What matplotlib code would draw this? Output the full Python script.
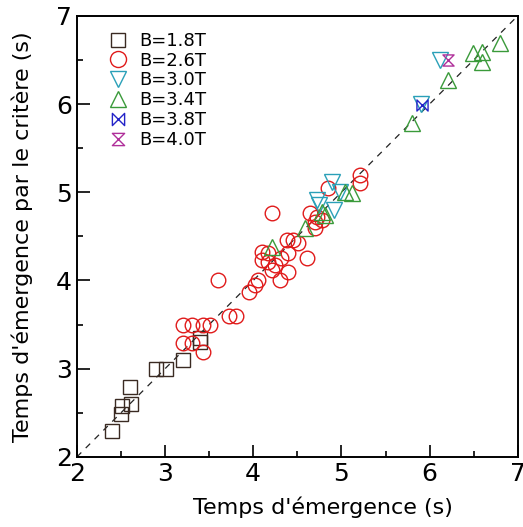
import matplotlib
matplotlib.use("Agg")
import matplotlib.pyplot as plt
import numpy as np
from matplotlib.path import Path
from matplotlib.ticker import MultipleLocator

# B = 1.8 T
x18 = [2.40, 2.50, 2.51, 2.61, 2.60, 2.90, 3.01, 3.20, 3.40, 3.40]
y18 = [2.29, 2.49, 2.58, 2.60, 2.79, 3.00, 3.00, 3.10, 3.30, 3.35]
# B = 2.6 T
x26 = [3.20, 3.30, 3.51, 3.20, 3.30, 3.43, 3.43, 3.72, 3.80, 3.60, 3.95, 4.02,
       4.05, 4.10, 4.10, 4.17, 4.17, 4.21, 4.30, 4.39, 4.32, 4.39, 4.38, 4.45,
       4.51, 4.61, 4.21, 4.64, 4.72, 4.70, 4.78, 4.70, 4.85, 5.21, 5.21, 4.25]
y26 = [3.50, 3.50, 3.50, 3.29, 3.29, 3.50, 3.19, 3.60, 3.60, 4.00, 3.87, 3.95,
       4.00, 4.23, 4.32, 4.21, 4.31, 4.12, 4.00, 4.10, 4.26, 4.31, 4.46, 4.46,
       4.43, 4.26, 4.76, 4.77, 4.72, 4.66, 4.69, 4.60, 5.05, 5.20, 5.11, 4.18]
# B = 3.0 T
x30 = [4.72, 4.75, 4.89, 4.98, 4.92, 5.90, 6.12]
y30 = [4.91, 4.86, 5.12, 5.00, 4.80, 6.00, 6.50]
# B = 3.4 T
x34 = [4.21, 4.59, 4.78, 4.81, 5.04, 5.12, 5.80, 6.21, 6.49, 6.60, 6.60, 6.80]
y34 = [4.38, 4.60, 4.78, 4.74, 5.00, 4.99, 5.79, 6.27, 6.58, 6.59, 6.48, 6.69]
# B = 3.8 T
x38 = [5.91]
y38 = [5.99]
# B = 4.0 T
x40 = [6.21]
y40 = [6.50]

labels = ["B=1.8T", "B=2.6T", "B=3.0T", "B=3.4T", "B=3.8T", "B=4.0T"]

bowtie = Path([(-1, -1), (-1, 1), (1, -1), (1, 1), (-1, -1)],
              [Path.MOVETO, Path.LINETO, Path.LINETO, Path.LINETO, Path.CLOSEPOLY])
hourglass = Path([(-1, 1), (1, 1), (-1, -1), (1, -1), (-1, 1)],
                 [Path.MOVETO, Path.LINETO, Path.LINETO, Path.LINETO, Path.CLOSEPOLY])

fig = plt.figure(figsize=(5.23, 5.27), dpi=100)
ax = fig.add_axes([0.147, 0.133, 0.843, 0.837])

ax.plot([2, 7], [2, 7], ls=(0, (5, 5)), color="#222222", lw=0.9, zorder=1)

series = [
    (x18, y18, "s", "#3a2a22", 9.5),
    (x26, y26, "o", "#e01a1a", 10.5),
    (x30, y30, "v", "#2aa0b8", 11),
    (x34, y34, "^", "#3a9a3a", 11),
    (x38, y38, bowtie, "#2323c8", 8),
    (x40, y40, hourglass, "#b0309a", 8),
]
for (xs, ys, m, c, ms), lab in zip(series, labels):
    ax.plot(xs, ys, ls="none", marker=m, markersize=ms, markerfacecolor="none",
            markeredgecolor=c, markeredgewidth=1.0, label=lab, zorder=2)

ax.set_xlim(2, 7)
ax.set_ylim(2, 7)
ax.xaxis.set_major_locator(MultipleLocator(1))
ax.yaxis.set_major_locator(MultipleLocator(1))
ax.xaxis.set_minor_locator(MultipleLocator(0.5))
ax.yaxis.set_minor_locator(MultipleLocator(0.5))
ax.tick_params(which="both", direction="in", top=False, right=False, labelsize=18)
ax.tick_params(which="major", length=9, width=1.2)
ax.tick_params(which="minor", length=4.5, width=1.2)
for s in ax.spines.values():
    s.set_linewidth(1.4)

ax.set_xlabel("Temps d'émergence (s)", fontsize=16)
ax.xaxis.set_label_coords(0.558, -0.09)
ax.set_ylabel("Temps d'émergence par le critère (s)", fontsize=16)
ax.yaxis.set_label_coords(-0.10, 0.5)

leg = ax.legend(loc="upper left", bbox_to_anchor=(0.052, 0.98), frameon=False,
                fontsize=13, labelspacing=0.1, handletextpad=0.6,
                handlelength=1.2, borderaxespad=0, markerscale=1.1)

fig.savefig("out.png", dpi=100)
